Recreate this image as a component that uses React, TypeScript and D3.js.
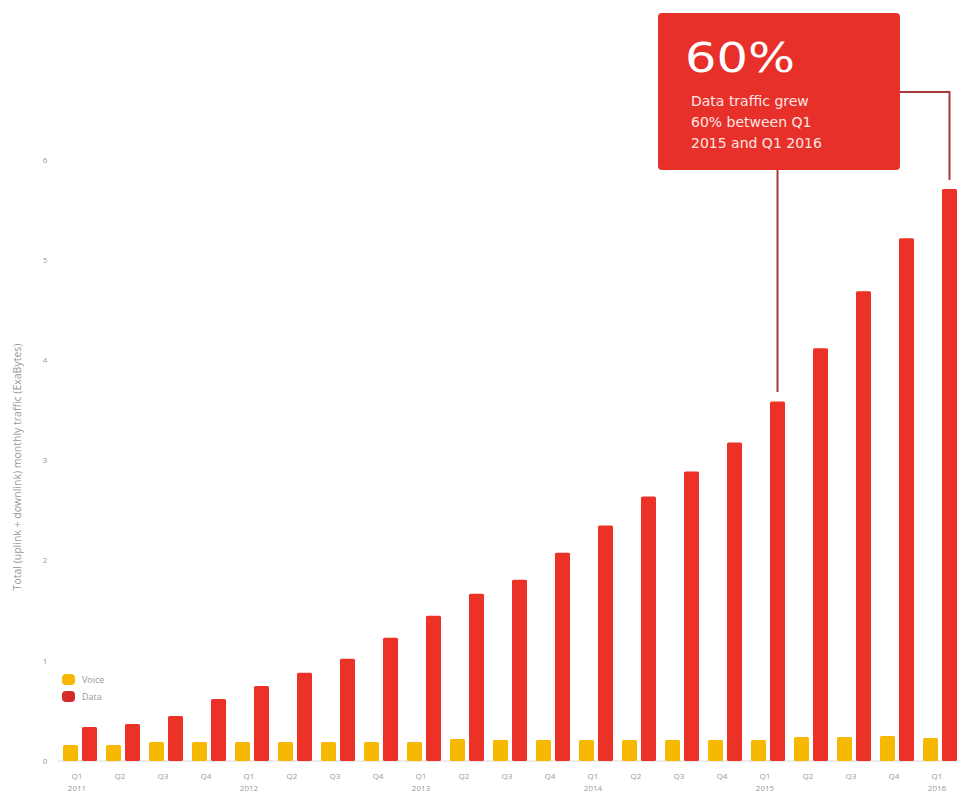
import React from "react";
import * as d3 from "d3";

const quarters = ["Q1","Q2","Q3","Q4","Q1","Q2","Q3","Q4","Q1","Q2","Q3","Q4","Q1","Q2","Q3","Q4","Q1","Q2","Q3","Q4","Q1"];
const years = ["2011","","","","2012","","","","2013","","","","2014","","","","2015","","","","2016"];
const voice = [0.16,0.16,0.19,0.19,0.19,0.19,0.19,0.19,0.19,0.22,0.21,0.21,0.21,0.21,0.21,0.21,0.21,0.24,0.24,0.25,0.23];
const data = [0.34,0.37,0.45,0.62,0.75,0.88,1.02,1.23,1.45,1.67,1.81,2.08,2.35,2.64,2.89,3.18,3.59,4.12,4.69,5.22,5.71];
const yTicks = [0,1,2,3,4,5,6];
const series = ["Voice","Data"];
const colors = ["#f6b800","#ec3126"];
const annotationTitle = "60%";
const annotationLines = ["Data traffic grew","60% between Q1","2015 and Q1 2016"];

export default function App() {
  const W = 957, H = 798;
  const idx = quarters.map((_, i) => String(i));
  const x0 = d3.scaleBand().domain(idx).range([58.5, 961.5]).padding(0);
  const x1 = d3.scaleBand().domain(series).range([4.5, 38.5]).paddingInner(0.2105).paddingOuter(0);
  const y = d3.scaleLinear().domain([0, 6]).range([761, 160]);
  const font = "'Open Sans', sans-serif";
  const afont = "'DejaVu Sans', sans-serif";

  const q15 = 16, q16 = 20;
  const lx1 = (x0(String(q15)) as number) + (x1("Data") as number) + x1.bandwidth() / 2;
  const lx2 = (x0(String(q16)) as number) + (x1("Data") as number) + x1.bandwidth() / 2;

  return (
    <svg width={W} height={H} style={{ position: "absolute", left: 0, top: 0, background: "#fff" }}>
      <line x1={58} x2={957} y1={y(0)} y2={y(0)} stroke="#d8d8d8" strokeWidth={1} />
      {yTicks.map(t => (
        <text key={t} x={45} y={y(t)} dy="0.35em" textAnchor="middle" fontSize={8} fill="#999" fontFamily={font}>{t}</text>
      ))}
      <text transform={`translate(21,467) rotate(-90)`} textAnchor="middle" fontSize={10.5} fill="#999" fontFamily={font}>
        Total (uplink + downlink) monthly traffic (ExaBytes)
      </text>
      {idx.map((k, i) => {
        const gx = x0(k) as number;
        return (
          <g key={k}>
            <rect x={gx + (x1("Voice") as number)} y={y(voice[i])} width={x1.bandwidth()} height={y(0) - y(voice[i])} fill={colors[0]} rx={1.5} />
            <rect x={gx + (x1("Data") as number)} y={y(data[i])} width={x1.bandwidth()} height={y(0) - y(data[i])} fill={colors[1]} rx={1.5} />
            <text x={gx + x0.bandwidth() / 2 - 3} y={779} textAnchor="middle" fontSize={8} fill="#999" fontFamily={font}>{quarters[i]}</text>
            {years[i] && (
              <text x={gx + x0.bandwidth() / 2 - 3} y={791} textAnchor="middle" fontSize={8} fill="#999" fontFamily={font}>{years[i]}</text>
            )}
          </g>
        );
      })}
      {series.map((s, i) => (
        <g key={s}>
          <rect x={62} y={674 + i * 17} width={13} height={11} rx={4} fill={i === 0 ? colors[0] : "#d42a2a"} />
          <text x={82} y={680 + i * 17} dy="0.35em" fontSize={9} fill="#999" fontFamily={font}>{s}</text>
        </g>
      ))}
      <path d={`M${lx1},170 V392`} stroke="#a83a3a" strokeWidth={2} fill="none" />
      <path d={`M900,92 H${lx2} V180`} stroke="#a83a3a" strokeWidth={2} fill="none" />
      <rect x={658} y={13} width={242} height={157} rx={4} fill="#e8302a" />
      <text x={685} y={72} fontSize={41} fill="#fff" fontFamily={afont} textLength={110} lengthAdjust="spacingAndGlyphs">{annotationTitle}</text>
      {annotationLines.map((l, i) => (
        <text key={i} x={691} y={106 + i * 21} fontSize={14} fill="#fde6e2" fontFamily={afont}>{l}</text>
      ))}
    </svg>
  );
}
